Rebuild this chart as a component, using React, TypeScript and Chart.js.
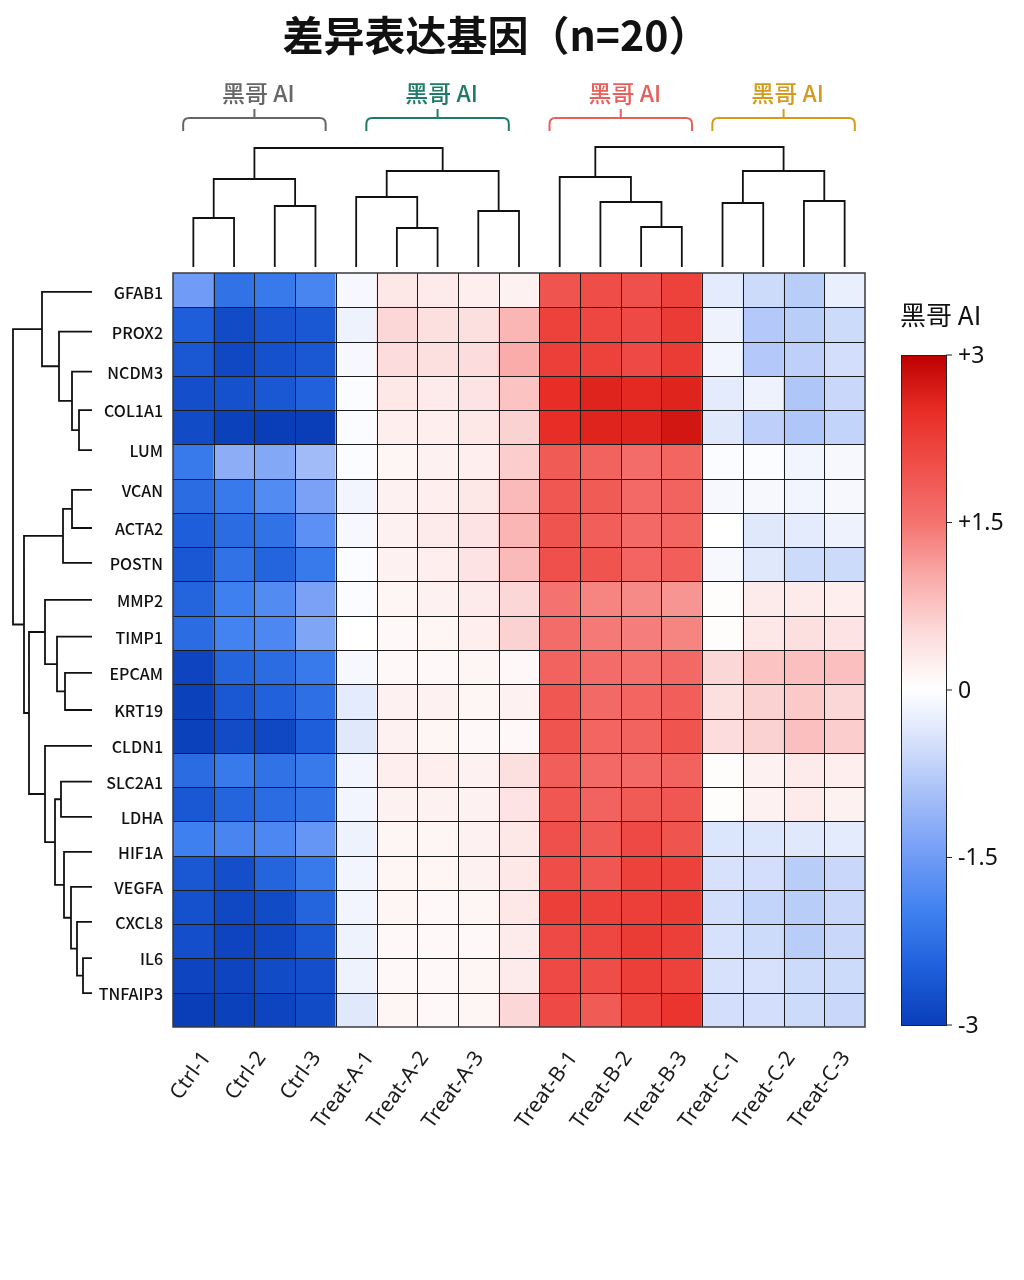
import React, { useEffect, useRef } from "react";
import { Chart, registerables } from "chart.js";

Chart.register(...registerables);

// ---------------- data ----------------
const chartTitle = "差异表达基因（n=20）";
const legendTitle = "黑哥 AI";

const genes = [
  "GFAB1", "PROX2", "NCDM3", "COL1A1", "LUM", "VCAN", "ACTA2", "POSTN", "MMP2", "TIMP1",
  "EPCAM", "KRT19", "CLDN1", "SLC2A1", "LDHA", "HIF1A", "VEGFA", "CXCL8", "IL6", "TNFAIP3",
];
// tick positions of the gene labels, in heatmap row units
const geneTickPos = [
  0.55, 1.71, 2.88, 4.0, 5.17, 6.33, 7.44, 8.46, 9.54, 10.61,
  11.67, 12.75, 13.8, 14.84, 15.87, 16.89, 17.91, 18.93, 19.99, 21.01,
];

const groupNames = ["黑哥 AI", "黑哥 AI", "黑哥 AI", "黑哥 AI"];
const groupSizes = [4, 5, 4, 4];
const sampleLabels = [
  ["Ctrl-1", "Ctrl-2", "Ctrl-3"],
  ["Treat-A-1", "Treat-A-2", "Treat-A-3"],
  ["Treat-B-1", "Treat-B-2", "Treat-B-3"],
  ["Treat-C-1", "Treat-C-2", "Treat-C-3"],
];
const colorbarTicks = [3, 1.5, 0, -1.5, -3];
const colorbarTickLabels = ["+3", "+1.5", "0", "-1.5", "-3"];

// z-scores: 22 heatmap rows per group
const ctrlValues = [
  [-1.5, -2.2, -2.1, -1.9],
  [-2.5, -2.8, -2.65, -2.6],
  [-2.6, -2.85, -2.7, -2.6],
  [-2.75, -2.7, -2.6, -2.45],
  [-2.8, -2.95, -3.0, -3.0],
  [-2.1, -1.2, -1.3, -1.0],
  [-2.3, -2.1, -1.8, -1.4],
  [-2.5, -2.3, -2.2, -1.7],
  [-2.6, -2.2, -2.4, -2.1],
  [-2.4, -2.0, -1.8, -1.4],
  [-2.3, -1.95, -1.85, -1.35],
  [-2.9, -2.4, -2.3, -2.1],
  [-2.95, -2.6, -2.45, -2.25],
  [-2.95, -2.8, -2.85, -2.5],
  [-2.3, -2.1, -2.2, -2.1],
  [-2.6, -2.4, -2.3, -2.2],
  [-2.0, -1.9, -1.85, -1.6],
  [-2.6, -2.75, -2.4, -2.1],
  [-2.7, -2.85, -2.8, -2.4],
  [-2.75, -2.9, -2.85, -2.6],
  [-2.9, -2.9, -2.8, -2.75],
  [-3.0, -2.95, -2.9, -2.8],
];
const treatAValues = [
  [-0.1, 0.35, 0.3, 0.25, 0.2],
  [-0.2, 0.55, 0.45, 0.45, 0.9],
  [-0.1, 0.5, 0.45, 0.5, 1.0],
  [-0.05, 0.35, 0.3, 0.4, 0.75],
  [-0.05, 0.25, 0.25, 0.35, 0.6],
  [-0.05, 0.15, 0.2, 0.25, 0.65],
  [-0.15, 0.2, 0.25, 0.35, 0.85],
  [-0.1, 0.2, 0.3, 0.4, 0.9],
  [-0.05, 0.2, 0.25, 0.4, 0.85],
  [-0.05, 0.15, 0.2, 0.3, 0.55],
  [0.0, 0.1, 0.15, 0.25, 0.6],
  [-0.1, 0.1, 0.1, 0.15, 0.1],
  [-0.3, 0.2, 0.2, 0.15, 0.2],
  [-0.35, 0.2, 0.15, 0.1, 0.1],
  [-0.15, 0.25, 0.25, 0.2, 0.45],
  [-0.15, 0.2, 0.2, 0.2, 0.4],
  [-0.2, 0.15, 0.15, 0.2, 0.35],
  [-0.15, 0.15, 0.15, 0.2, 0.35],
  [-0.15, 0.15, 0.1, 0.15, 0.35],
  [-0.2, 0.1, 0.1, 0.1, 0.3],
  [-0.2, 0.1, 0.1, 0.15, 0.3],
  [-0.35, 0.15, 0.1, 0.15, 0.55],
];
const treatBValues = [
  [1.95, 2.05, 2.0, 2.2],
  [2.2, 2.15, 2.1, 2.3],
  [2.25, 2.2, 2.1, 2.3],
  [2.5, 2.6, 2.55, 2.6],
  [2.5, 2.6, 2.6, 2.75],
  [1.85, 1.75, 1.6, 1.7],
  [1.9, 1.85, 1.65, 1.75],
  [1.95, 1.8, 1.65, 1.7],
  [2.0, 1.95, 1.7, 1.8],
  [1.5, 1.35, 1.3, 1.2],
  [1.6, 1.45, 1.4, 1.35],
  [1.75, 1.6, 1.55, 1.65],
  [1.9, 1.65, 1.7, 1.8],
  [1.95, 1.7, 1.75, 1.95],
  [1.8, 1.65, 1.65, 1.75],
  [1.9, 1.75, 1.85, 1.9],
  [2.0, 1.85, 2.1, 1.95],
  [2.05, 1.9, 2.2, 2.2],
  [2.25, 2.2, 2.25, 2.3],
  [2.1, 2.15, 2.3, 2.25],
  [2.1, 2.05, 2.25, 2.2],
  [2.1, 1.85, 2.2, 2.4],
];
const treatCValues = [
  [-0.3, -0.55, -0.75, -0.25],
  [-0.2, -0.8, -0.75, -0.55],
  [-0.15, -0.8, -0.7, -0.5],
  [-0.3, -0.2, -0.85, -0.6],
  [-0.35, -0.7, -0.85, -0.65],
  [-0.05, -0.05, -0.15, -0.1],
  [-0.1, -0.1, -0.15, -0.1],
  [0.0, -0.35, -0.3, -0.2],
  [-0.1, -0.35, -0.55, -0.55],
  [0.05, 0.3, 0.3, 0.25],
  [0.05, 0.35, 0.45, 0.4],
  [0.55, 0.75, 0.8, 0.8],
  [0.45, 0.6, 0.7, 0.55],
  [0.5, 0.6, 0.8, 0.65],
  [0.05, 0.2, 0.3, 0.25],
  [0.05, 0.2, 0.3, 0.2],
  [-0.4, -0.4, -0.35, -0.3],
  [-0.45, -0.5, -0.75, -0.6],
  [-0.5, -0.65, -0.75, -0.6],
  [-0.45, -0.55, -0.75, -0.6],
  [-0.45, -0.45, -0.55, -0.55],
  [-0.5, -0.5, -0.55, -0.6],
];

// dendrogram merges: [childA, childB, height]; ids >= leafCount refer to earlier merges
const colMerges = [
  [0, 1, 49], [2, 3, 61], [17, 18, 88],
  [5, 6, 39], [4, 20, 70], [7, 8, 56], [21, 22, 96],
  [19, 23, 119],
  [11, 12, 40], [10, 25, 65], [9, 26, 90],
  [13, 14, 64], [15, 16, 66], [28, 29, 96],
  [27, 30, 120],
];
const rowMerges = [
  [3, 4, 13], [2, 20, 20], [1, 21, 33], [0, 22, 50],
  [5, 6, 20], [24, 7, 29],
  [10, 11, 27], [9, 26, 35], [8, 27, 47],
  [18, 19, 9], [17, 29, 15], [16, 30, 21], [15, 31, 28],
  [13, 14, 31], [33, 32, 37], [12, 34, 47],
  [28, 35, 63], [25, 36, 68], [23, 37, 79],
];

// ---------------- styling ----------------
const groupColors = ["#666666", "#1f7a68", "#e8605c", "#d49a1c"];
const cmapStops: [number, number[]][] = [
  [-3, [10, 62, 185]],
  [-2.5, [30, 94, 218]],
  [-2, [62, 128, 240]],
  [-1.5, [112, 155, 246]],
  [-1, [160, 187, 247]],
  [-0.5, [210, 222, 251]],
  [0, [255, 255, 255]],
  [0.5, [252, 220, 220]],
  [1, [249, 172, 170]],
  [1.5, [244, 115, 112]],
  [2, [240, 80, 75]],
  [2.5, [232, 45, 38]],
  [3, [188, 0, 0]],
];

function colorFor(v: number): string {
  const t = Math.max(-3, Math.min(3, v));
  for (let i = 0; i < cmapStops.length - 1; i++) {
    const [v0, c0] = cmapStops[i];
    const [v1, c1] = cmapStops[i + 1];
    if (t >= v0 && t <= v1) {
      const f = (t - v0) / (v1 - v0);
      const c = c0.map((a, k) => Math.round(a + (c1[k] - a) * f));
      return `rgb(${c[0]},${c[1]},${c[2]})`;
    }
  }
  return "#fff";
}

const rowValues: number[][] = ctrlValues.map((_, r) => [
  ...ctrlValues[r],
  ...treatAValues[r],
  ...treatBValues[r],
  ...treatCValues[r],
]);
const nRows = rowValues.length;
const nCols = rowValues[0].length;
const columnIds = Array.from({ length: nCols }, (_, i) => `S${i + 1}`);

function drawDendro(
  ctx: CanvasRenderingContext2D,
  merges: number[][],
  leafPos: number[],
  base: number,
  dir: number,
  vertical: boolean
) {
  const n = leafPos.length;
  const pos: number[] = [...leafPos];
  const hts: number[] = new Array(n).fill(0);
  const P = (along: number, h: number) => (vertical ? [along, base + dir * h] : [base + dir * h, along]);
  ctx.beginPath();
  merges.forEach(([a, b, h]) => {
    const pa = pos[a], pb = pos[b];
    const [ax0, ay0] = P(pa, hts[a]);
    const [ax1, ay1] = P(pa, h);
    const [bx0, by0] = P(pb, hts[b]);
    const [bx1, by1] = P(pb, h);
    ctx.moveTo(ax0, ay0);
    ctx.lineTo(ax1, ay1);
    ctx.lineTo(bx1, by1);
    ctx.lineTo(bx0, by0);
    pos.push((pa + pb) / 2);
    hts.push(h);
  });
  ctx.stroke();
}

const decorPlugin = {
  id: "decor",
  beforeDraw(chart: any) {
    const { ctx, width, height } = chart;
    ctx.save();
    ctx.fillStyle = "#ffffff";
    ctx.fillRect(0, 0, width, height);
    ctx.restore();
  },
  afterDatasetsDraw(chart: any) {
    const { ctx, chartArea: a, scales } = chart;
    const x = scales.x;
    const y = scales.y;
    const colW = x.getPixelForValue(1) - x.getPixelForValue(0);
    ctx.save();

    // cell grid
    ctx.strokeStyle = "#1c1c1c";
    ctx.lineWidth = 1;
    ctx.beginPath();
    for (let c = 1; c < nCols; c++) {
      const px = Math.round(x.getPixelForValue(c - 0.5)) + 0.5;
      ctx.moveTo(px, a.top);
      ctx.lineTo(px, a.bottom);
    }
    for (let r = 1; r < nRows; r++) {
      const py = Math.round(y.getPixelForValue(r)) + 0.5;
      ctx.moveTo(a.left, py);
      ctx.lineTo(a.right, py);
    }
    ctx.stroke();
    ctx.strokeStyle = "#3a3a3a";
    ctx.lineWidth = 1.5;
    ctx.strokeRect(a.left, a.top, a.right - a.left, a.bottom - a.top);

    // title
    ctx.fillStyle = "#111";
    ctx.font = 'bold 41px "Noto Sans CJK SC", "Noto Sans", sans-serif';
    ctx.textAlign = "center";
    ctx.textBaseline = "middle";
    ctx.fillText(chartTitle, 496, 35);

    // column dendrogram
    ctx.strokeStyle = "#111";
    ctx.lineWidth = 1.8;
    const colLeaf = columnIds.map((_, i) => x.getPixelForValue(i));
    drawDendro(ctx, colMerges, colLeaf, a.top - 6, -1, true);

    // row dendrogram
    const rowLeaf = geneTickPos.map((v) => y.getPixelForValue(v));
    drawDendro(ctx, rowMerges, rowLeaf, a.left - 81, -1, false);

    // gene labels
    ctx.fillStyle = "#111";
    ctx.font = '500 16px "Noto Sans CJK SC", "Noto Sans", sans-serif';
    ctx.textAlign = "right";
    ctx.textBaseline = "middle";
    genes.forEach((g, i) => ctx.fillText(g, a.left - 10, rowLeaf[i] + 1));

    // groups: brackets, labels, sample labels
    let start = 0;
    groupSizes.forEach((size, g) => {
      const center = start + (size - 1) / 2;
      const cx = x.getPixelForValue(center);
      const x0 = cx - 1.75 * colW;
      const x1 = cx + 1.75 * colW;
      const yTop = a.top - 155;
      const yBot = a.top - 142;
      const rad = 6;
      ctx.strokeStyle = groupColors[g];
      ctx.lineWidth = 2;
      ctx.beginPath();
      ctx.moveTo(x0, yBot);
      ctx.lineTo(x0, yTop + rad);
      ctx.quadraticCurveTo(x0, yTop, x0 + rad, yTop);
      ctx.lineTo(x1 - rad, yTop);
      ctx.quadraticCurveTo(x1, yTop, x1, yTop + rad);
      ctx.lineTo(x1, yBot);
      ctx.moveTo(cx, yTop);
      ctx.lineTo(cx, yTop - 9);
      ctx.stroke();

      ctx.fillStyle = groupColors[g];
      ctx.font = '500 23px "Noto Sans CJK SC", "Noto Sans", sans-serif';
      ctx.textAlign = "center";
      ctx.textBaseline = "middle";
      ctx.fillText(groupNames[g], cx + 4, a.top - 180);

      ctx.fillStyle = "#1a1a1a";
      ctx.font = '21px "Noto Sans", "Open Sans", sans-serif';
      ctx.textAlign = "right";
      ctx.textBaseline = "middle";
      sampleLabels[g].forEach((lab, k) => {
        const px = x.getPixelForValue(start + 0.33 + k * 1.35);
        ctx.save();
        ctx.translate(px, a.bottom + 27);
        ctx.rotate((-54 * Math.PI) / 180);
        ctx.fillText(lab, 0, 0);
        ctx.restore();
      });
      start += size;
    });

    // colour bar
    const cbL = a.right + 36;
    const cbW = 45;
    const cbT = a.top + 82;
    const cbB = a.bottom - 2;
    const grad = ctx.createLinearGradient(0, cbT, 0, cbB);
    cmapStops.forEach(([v, c]) => {
      grad.addColorStop((3 - v) / 6, `rgb(${c[0]},${c[1]},${c[2]})`);
    });
    ctx.fillStyle = grad;
    ctx.fillRect(cbL, cbT, cbW, cbB - cbT);
    ctx.strokeStyle = "#222";
    ctx.lineWidth = 1;
    ctx.strokeRect(cbL + 0.5, cbT + 0.5, cbW, cbB - cbT);
    ctx.fillStyle = "#111";
    ctx.font = '23px "Noto Sans", "DejaVu Sans", sans-serif';
    ctx.textAlign = "left";
    ctx.textBaseline = "middle";
    colorbarTicks.forEach((v, i) => {
      const py = cbT + ((3 - v) / 6) * (cbB - cbT);
      ctx.beginPath();
      ctx.moveTo(cbL + cbW, py);
      ctx.lineTo(cbL + cbW + 6, py);
      ctx.stroke();
      ctx.fillText(colorbarTickLabels[i], cbL + cbW + 12, py + 1);
    });
    ctx.font = '26px "Noto Sans CJK SC", "Noto Sans", sans-serif';
    ctx.fillText(legendTitle, cbL - 1, a.top + 42);

    ctx.restore();
  },
};

export default function App() {
  const canvasRef = useRef<HTMLCanvasElement | null>(null);

  useEffect(() => {
    const canvas = canvasRef.current;
    if (!canvas) return;
    const datasets = rowValues.map((vals, r) => ({
      label: `row-${r}`,
      data: vals.map(() => [r, r + 1]),
      backgroundColor: vals.map(colorFor),
      borderWidth: 0,
      borderSkipped: false,
      grouped: false,
      categoryPercentage: 1,
      barPercentage: 1,
    }));
    const chart = new Chart(canvas, {
      type: "bar",
      data: { labels: columnIds, datasets: datasets as any },
      options: {
        animation: false,
        responsive: false,
        maintainAspectRatio: false,
        layout: { padding: { left: 173, right: 159, top: 273, bottom: 253 } },
        plugins: {
          legend: { display: false },
          tooltip: { enabled: false },
          title: { display: false },
        },
        scales: {
          x: { type: "category", display: false, offset: true },
          y: { type: "linear", min: 0, max: nRows, reverse: true, display: false },
        },
      },
      plugins: [decorPlugin],
    });
    return () => chart.destroy();
  }, []);

  return (
    <div style={{ position: "absolute", left: 0, top: 0, width: 1024, height: 1280, background: "#fff" }}>
      <canvas ref={canvasRef} width={1024} height={1280} style={{ width: 1024, height: 1280, display: "block" }} />
    </div>
  );
}
